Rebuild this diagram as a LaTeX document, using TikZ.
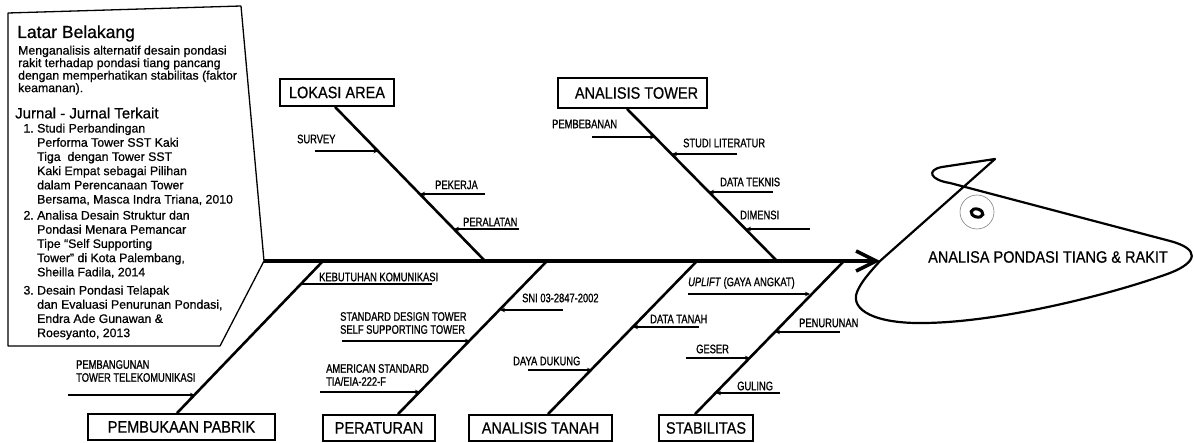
\documentclass[tikz,border=0pt]{standalone}
\usepackage{fontspec}
\setmainfont{Liberation Sans}[FakeBold=0.5]
\newfontfamily\catnarrow[FakeStretch=0.88,FakeBold=0.6]{Liberation Sans}
\newfontfamily\causenarrow[FakeStretch=0.76,FakeBold=1]{Liberation Sans}
\newfontfamily\infosans[FakeBold=0.7]{Liberation Sans}
\usepackage{tikz}
\usetikzlibrary{arrows.meta}
\newcommand{\catfont}{\catnarrow\fontsize{16.5}{18}\selectfont}
\newcommand{\causefont}{\causenarrow\fontsize{12.3}{13}\selectfont}
\newcommand{\infofont}{\infosans\fontsize{12.3}{14.2}\selectfont}
\tikzset{
    catbox/.style={rectangle, draw, line width=1.8pt, font=\catfont, inner sep=0pt},
    cause/.style={anchor=west, align=left, font=\causefont, inner sep=0pt},
    spine/.style={line width=3.5pt, -{Straight Barb[length=20pt,width=20pt]}},
    bone/.style={line width=2.6pt},
    subarr/.style={line width=1.8pt, -{Stealth[length=5pt,width=4.5pt]}},
    subline/.style={line width=1.8pt},
    fish/.style={line width=2.2pt, line join=round},
    infobox/.style={line width=1.3pt, line join=round},
    info/.style={anchor=north west, align=left, inner sep=0pt, font=\infofont}
}

\begin{document}
\begin{tikzpicture}[x=1pt, y=-1pt]
    \useasboundingbox (0,0) rectangle (1194,443);

    % latar belakang
    \coordinate (spinestart) at (264,261);
    \draw[infobox] (8,13) -- (241,6) -- (spinestart) -- (220,346) -- (8,346) -- cycle;
    \node[anchor=base west, inner sep=0pt, font=\infosans\fontsize{17.5}{20}\selectfont] (latar) at (17,38) {Latar Belakang};
    \node[info, font=\infosans\fontsize{12.3}{12.5}\selectfont] (bgtext) at (18,45.5) {Menganalisis alternatif desain pondasi\\rakit terhadap pondasi tiang pancang\\dengan memperhatikan stabilitas (faktor\\keamanan).};
    \node[anchor=base west, inner sep=0pt, font=\infosans\fontsize{15}{17}\selectfont] (jurnal) at (15,118.4) {Jurnal - Jurnal Terkait};
    \node[info] (jur1) at (37,123.4) {\llap{1.\ }Studi Perbandingan\\Performa Tower SST Kaki\\Tiga\ \ dengan Tower SST\\Kaki Empat sebagai Pilihan\\dalam Perencanaan Tower\\Bersama, Masca Indra Triana, 2010};
    \node[info] (jur2) at (37,210.4) {\llap{2.\ }Analisa Desain Struktur dan\\Pondasi Menara Pemancar\\Tipe “Self Supporting\\Tower” di Kota Palembang,\\Sheilla Fadila, 2014};
    \node[info] (jur3) at (37,285.4) {\llap{3.\ }Desain Pondasi Telapak\\dan Evaluasi Penurunan Pondasi,\\Endra Ade Gunawan \&\\Roesyanto, 2013};

    % kategori
    \node[catbox, minimum width=114pt, minimum height=27pt] (lokasi) at (337,92.5) {LOKASI AREA};
    \node[catbox, minimum width=149pt, minimum height=30pt] (tower) at (632.5,93) {\hspace*{8pt}ANALISIS TOWER};
    \node[catbox, minimum width=187pt, minimum height=26pt] (pabrik) at (181.5,427) {PEMBUKAAN PABRIK};
    \node[catbox, minimum width=112pt, minimum height=26pt] (aturan) at (379,428) {PERATURAN};
    \node[catbox, minimum width=143pt, minimum height=26pt] (tanah) at (540.5,428) {ANALISIS TANAH};
    \node[catbox, minimum width=94pt, minimum height=26pt] (stabil) at (706,428) {STABILITAS};

    % tulang utama
    \coordinate (fishtip) at (880,261);
    \coordinate (jlokasi) at (485,261);
    \coordinate (jtower) at (777,261);
    \coordinate (jpabrik) at (323,261);
    \coordinate (jaturan) at (547,261);
    \coordinate (jtanah) at (697,261);
    \coordinate (jstabil) at (844,261);
    \draw[spine] (spinestart) -- (fishtip);
    \draw[bone] ([xshift=-2pt]lokasi.south) -- (jlokasi);
    \draw[bone] ([xshift=-5.5pt]tower.south) -- (jtower);
    \draw[bone] ([xshift=-4.5pt]pabrik.north) -- (jpabrik);
    \draw[bone] ([xshift=19pt]aturan.north) -- (jaturan);
    \draw[bone] ([xshift=7.5pt]tanah.north) -- (jtanah);
    \draw[bone] ([xshift=-11pt]stabil.north) -- (jstabil);

    % lokasi area
    \node[cause] (survey) at (297,139) {SURVEY};
    \node[cause] (pekerja) at (435,185) {PEKERJA};
    \node[cause] (alat) at (463,222) {PERALATAN};
    \coordinate (s1) at (315,151); \coordinate (e1) at (378.5,151);
    \coordinate (s2) at (485,194); \coordinate (e2) at (420,194);
    \coordinate (s3) at (519,229); \coordinate (e3) at (454,229);
    \draw[subarr] (s1) -- (e1);
    \draw[subarr] (s2) -- (e2);
    \draw[subarr] (s3) -- (e3);

    % analisis tower
    \node[cause] (beban) at (552,124) {PEMBEBANAN};
    \node[cause] (studi) at (683,143) {STUDI LITERATUR};
    \node[cause] (teknis) at (720,182) {DATA TEKNIS};
    \node[cause] (dimensi) at (740,215) {DIMENSI};
    \coordinate (s4) at (592,137); \coordinate (e4) at (655,137);
    \coordinate (s5) at (737,154); \coordinate (e5) at (672,154);
    \coordinate (s6) at (773,192); \coordinate (e6) at (709,192);
    \coordinate (s7) at (810,229); \coordinate (e7) at (746,229);
    \draw[subarr] (s4) -- (e4);
    \draw[subarr] (s5) -- (e5);
    \draw[subarr] (s6) -- (e6);
    \draw[subarr] (s7) -- (e7);

    % pembukaan pabrik
    \node[cause] (butuh) at (319,277) {KEBUTUHAN KOMUNIKASI};
    \node[cause] (bangun) at (76,371) {PEMBANGUNAN\\TOWER TELEKOMUNIKASI};
    \coordinate (s8) at (301,284); \coordinate (e8) at (432,284);
    \coordinate (s9) at (68,395); \coordinate (e9) at (195,395);
    \draw[subline] (s8) -- (e8);
    \draw[subarr] (s9) -- (e9);

    % peraturan
    \node[cause] (sni) at (522,298) {SNI 03-2847-2002};
    \node[cause] (sdt) at (340,323) {STANDARD DESIGN TOWER\\SELF SUPPORTING TOWER};
    \node[cause] (tia) at (326,375) {AMERICAN STANDARD\\TIA/EIA-222-F};
    \coordinate (s10) at (563,310); \coordinate (e10) at (500,310);
    \coordinate (s11) at (342,341); \coordinate (e11) at (470,341);
    \coordinate (s12) at (320,392); \coordinate (e12) at (420,392);
    \draw[subarr] (s10) -- (e10);
    \draw[subarr] (s11) -- (e11);
    \draw[subarr] (s12) -- (e12);

    % analisis tanah
    \node[cause] (dtanah) at (650,319) {DATA TANAH};
    \node[cause] (dukung) at (513,361) {DAYA DUKUNG};
    \coordinate (s13) at (699,327); \coordinate (e13) at (633,327);
    \coordinate (s14) at (528,370); \coordinate (e14) at (592,370);
    \draw[subarr] (s13) -- (e13);
    \draw[subarr] (s14) -- (e14);

    % stabilitas
    \node[cause] (uplift) at (688,283) {\textit{UPLIFT} (GAYA ANGKAT)};
    \node[cause] (turun) at (799,323) {PENURUNAN};
    \node[cause] (geser) at (696,349) {GESER};
    \node[cause] (guling) at (737,386) {GULING};
    \coordinate (s15) at (688,294); \coordinate (e15) at (810,294);
    \coordinate (s16) at (840,332); \coordinate (e16) at (775,332);
    \coordinate (s17) at (686,358); \coordinate (e17) at (750,358);
    \coordinate (s18) at (780,393); \coordinate (e18) at (716,393);
    \draw[subarr] (s15) -- (e15);
    \draw[subarr] (s16) -- (e16);
    \draw[subarr] (s17) -- (e17);
    \draw[subarr] (s18) -- (e18);

    % kepala ikan
    \coordinate (fintop) at (995,159);
    \draw[fish] (fishtip) -- (fintop) -- (942,167)
        .. controls (926,170) and (930,180) .. (950,183)
        -- (1170,241) .. controls (1200,249) and (1198,262) .. (1170,273)
        .. controls (1110,295) and (1000,322) .. (925,323)
        .. controls (875,324) and (850,310) .. (857,292)
        .. controls (861,282) and (870,272) .. (fishtip);
    \draw[gray, line width=0.6pt] (977,212) circle (17);
    \draw[line width=3pt] (977,213) ellipse [x radius=6, y radius=4, rotate=-15];
    \node[font=\catfont, inner sep=0pt] (effect) at (1048,257) {ANALISA PONDASI TIANG \& RAKIT};
\end{tikzpicture}
\end{document}
